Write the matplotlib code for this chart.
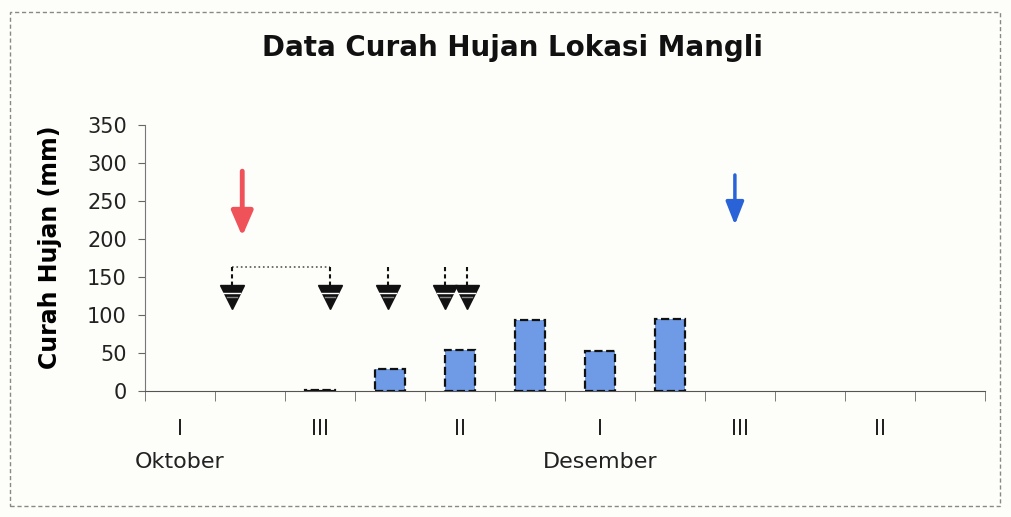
import matplotlib.pyplot as plt
from matplotlib.patches import Rectangle

# dekad (10-day) periods from October to January
dekads = ["I", "II", "III"] * 4
months = ["Oktober", "", "", "November", "", "", "Desember", "", "", "Januari", "", ""]
rainfall = [0, 0, 1, 29, 54, 93, 53, 94, 0, 0, 0, 0]

# markers drawn over the bars (x in category units, y in mm)
red_arrow_x = 0.89
red_arrow_y = (293, 200)
blue_arrow_x = 7.93
blue_arrow_y = (288, 215)
event_x = [0.74, 2.14, 2.97, 3.79, 4.10]
event_top = 163
event_mark = 124

plt.rcParams["font.family"] = ["DejaVu Sans"]

fig = plt.figure(figsize=(10.11, 5.17), dpi=100)
fig.patch.set_facecolor("#fdfdfa")
ax = fig.add_axes([0.1434, 0.244, 0.8306, 0.514])
ax.set_facecolor("none")

x = list(range(len(rainfall)))
edge_c = ["#111111" if v > 0 else "none" for v in rainfall]
ax.bar(x, rainfall, width=0.43, color="#6e9ae6", edgecolor=edge_c,
       linestyle="--", linewidth=1.6, zorder=3)

# red and blue arrows
ax.annotate("", xy=(red_arrow_x, red_arrow_y[1]), xytext=(red_arrow_x, red_arrow_y[0]),
            arrowprops=dict(arrowstyle="-|>,head_length=1.5,head_width=0.65",
                            color="#f0525a", lw=3.5))
ax.annotate("", xy=(blue_arrow_x, blue_arrow_y[1]), xytext=(blue_arrow_x, blue_arrow_y[0]),
            arrowprops=dict(arrowstyle="-|>,head_length=1.4,head_width=0.55",
                            color="#2a63d8", lw=2.5))

# black dashed arrows with triangle heads
ax.plot([event_x[0], event_x[1]], [event_top, event_top], color="#555555",
        linestyle=":", lw=1.2)
for ex in event_x:
    ax.plot([ex, ex], [event_top, event_mark + 10], color="#111111",
            linestyle="--", lw=1.5, dashes=(2, 1.5))
    ax.plot(ex, event_mark, marker="v", markersize=17, color="#111111", linestyle="none")
    ax.plot([ex - 0.12, ex + 0.12], [event_mark + 5, event_mark + 5], color="white", lw=1)
    ax.plot([ex - 0.07, ex + 0.07], [event_mark - 1, event_mark - 1], color="#888888", lw=1)

ax.set_xlim(-0.5, 11.5)
ax.set_ylim(0, 350)
ax.set_yticks(range(0, 351, 50))
ax.tick_params(axis="y", labelsize=15, length=5, pad=8, color="#666666", labelcolor="#222222")

ax.set_xticks(x[::2])
ax.set_xticklabels(dekads[::2], fontsize=15, color="#222222")
ax.set_xticks([i - 0.5 for i in range(len(rainfall) + 1)], minor=True)
ax.tick_params(axis="x", which="major", length=0, pad=20)
ax.tick_params(axis="x", which="minor", length=7, color="#666666")

for i, m in enumerate(months):
    if m and i % 6 == 0:
        ax.annotate(m, xy=(i, 0), xycoords=("data", "axes fraction"),
                    xytext=(0, -44), textcoords="offset points",
                    ha="center", va="top", fontsize=16, color="#222222")

for side in ["top", "right"]:
    ax.spines[side].set_visible(False)
ax.spines["left"].set_color("#777777")
ax.spines["bottom"].set_color("#555555")

ax.set_ylabel("Curah Hujan (mm)", fontsize=17, fontweight="bold", va="center")
ax.yaxis.set_label_coords(-0.113, 0.542)
fig.text(0.507, 0.908, "Data Curah Hujan Lokasi Mangli", ha="center", va="center",
         fontsize=20, fontweight="bold", color="#111111")

# scanned page frame
fig.patches.append(Rectangle((0.010, 0.022), 0.979, 0.955, transform=fig.transFigure,
                             fill=False, edgecolor="#888888", lw=1, linestyle=(0, (3, 2))))

fig.savefig("out.png", dpi=100, facecolor=fig.get_facecolor())
